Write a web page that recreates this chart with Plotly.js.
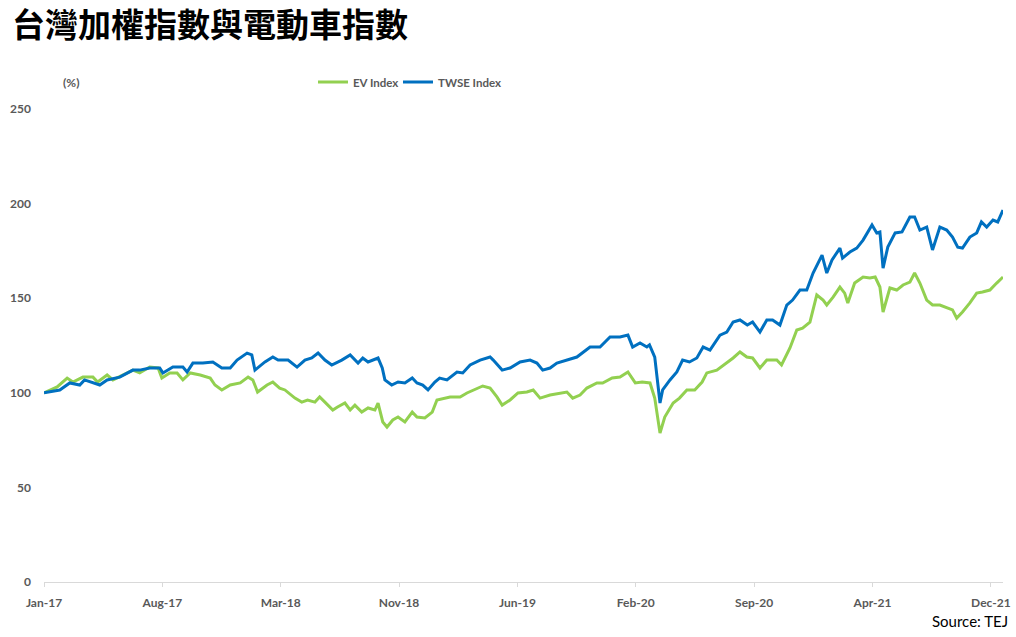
<!DOCTYPE html>
<html>
<head>
<meta charset="utf-8">
<script src="https://cdn.plot.ly/plotly-3.0.1.min.js"></script>
<style>html,body{margin:0;padding:0;background:#fff;}#chart{width:1016px;height:637px;}</style>
</head>
<body>
<div id="chart"></div>
<script>
const chartTitle = "台灣加權指數與電動車指數";
const seriesNames = ["EV Index", "TWSE Index"];
const unitLabel = "(%)";
const sourceText = "Source: TEJ";

const tickDates = ["2017-01-03","2017-08-16","2018-03-29","2018-11-09","2019-06-22","2020-02-02","2020-09-14","2021-04-27","2021-12-08"];
const tickLabels = ["Jan-17","Aug-17","Mar-18","Nov-18","Jun-19","Feb-20","Sep-20","Apr-21","Dec-21"];
const yTicks = [0, 50, 100, 150, 200, 250];

const twseDates = ["2017-01-03","2017-02-02","2017-02-21","2017-03-12","2017-03-21","2017-04-19","2017-05-03","2017-05-27","2017-06-21","2017-07-04","2017-07-23","2017-08-11","2017-08-17","2017-09-05","2017-09-24","2017-10-02","2017-10-13","2017-11-01","2017-11-20","2017-12-07","2017-12-23",
"2018-01-05","2018-01-24","2018-02-02","2018-02-08","2018-02-27","2018-03-14","2018-03-24","2018-04-12","2018-04-29","2018-05-14","2018-05-27","2018-06-08","2018-06-21","2018-07-04","2018-07-23","2018-08-08","2018-08-23","2018-09-01","2018-09-11","2018-09-30","2018-10-08","2018-10-13","2018-10-26","2018-11-07","2018-11-20","2018-12-04","2018-12-13","2018-12-24",
"2019-01-03","2019-01-16","2019-01-25","2019-02-08","2019-02-27","2019-03-10","2019-03-24","2019-04-12","2019-05-01","2019-05-07","2019-05-24","2019-06-08","2019-06-27","2019-07-16","2019-07-29","2019-08-09","2019-08-23","2019-09-05","2019-09-24","2019-10-13","2019-11-07","2019-11-26","2019-12-15",
"2020-01-03","2020-01-18","2020-01-27","2020-02-10","2020-02-23","2020-02-28","2020-03-09","2020-03-19","2020-03-24","2020-04-07","2020-04-20","2020-05-01","2020-05-14","2020-05-28","2020-06-09","2020-06-22","2020-07-11","2020-07-24","2020-08-05","2020-08-18","2020-09-01","2020-09-11","2020-09-25","2020-10-08","2020-10-19","2020-11-02","2020-11-15","2020-11-26","2020-12-10","2020-12-23",
"2021-01-04","2021-01-21","2021-01-30","2021-02-09","2021-02-24","2021-03-01","2021-03-15","2021-03-28","2021-04-09","2021-04-26","2021-05-05","2021-05-11","2021-05-17","2021-05-26","2021-06-09","2021-06-22","2021-07-07","2021-07-16","2021-07-26","2021-08-08","2021-08-19","2021-09-02","2021-09-15","2021-09-26","2021-10-06","2021-10-15","2021-10-29","2021-11-11","2021-11-20","2021-11-30","2021-12-12","2021-12-21","2021-12-31"];
const twseValues = [100.0,101.5,105.2,104.1,106.8,104.1,106.8,108.3,112.0,112.0,113.1,113.1,110.5,113.6,113.6,111.0,115.7,115.7,116.3,113.1,113.1,
117.3,121.0,120.0,112.0,116.3,118.9,117.3,117.3,113.6,117.3,118.4,121.0,117.3,114.7,117.3,120.0,115.7,118.4,116.3,118.4,113.1,106.8,104.1,105.7,105.2,107.8,105.2,104.1,
101.5,105.7,107.8,106.8,111.0,110.5,114.7,117.3,118.9,117.3,112.0,113.1,116.3,117.3,115.7,112.0,113.1,115.7,117.3,118.9,124.2,124.2,129.5,
129.5,130.5,124.2,126.3,124.2,125.3,118.9,94.6,101.5,106.8,111.0,117.3,116.3,118.4,124.2,122.6,130.5,132.1,137.4,138.5,135.8,137.4,132.1,138.5,138.5,135.8,146.4,149.0,154.3,154.3,
163.3,172.8,163.3,170.2,176.5,171.2,174.4,176.5,180.7,188.7,184.5,185.0,165.9,177.0,184.5,185.0,192.9,192.9,186.0,187.6,175.5,187.6,186.0,182.3,177.0,176.5,182.3,184.5,190.3,187.6,191.3,190.3,196.6];

const evDates = ["2017-01-03","2017-01-28","2017-02-16","2017-02-27","2017-03-18","2017-04-06","2017-04-15","2017-05-03","2017-05-14","2017-06-02","2017-06-21","2017-07-04","2017-07-23","2017-08-08","2017-08-15","2017-08-30","2017-09-13","2017-09-24","2017-10-08","2017-10-27","2017-11-15","2017-11-24","2017-12-07","2017-12-23",
"2018-01-11","2018-01-26","2018-02-04","2018-02-13","2018-03-03","2018-03-14","2018-03-27","2018-04-06","2018-04-25","2018-05-08","2018-05-19","2018-06-02","2018-06-11","2018-06-21","2018-07-06","2018-07-15","2018-07-29","2018-08-08","2018-08-17","2018-08-30","2018-09-11","2018-09-24","2018-09-30","2018-10-09","2018-10-17","2018-10-28","2018-11-07","2018-11-20","2018-12-04","2018-12-13","2018-12-28",
"2019-01-11","2019-01-20","2019-02-14","2019-03-05","2019-03-18","2019-04-06","2019-04-17","2019-05-01","2019-05-14","2019-05-24","2019-06-08","2019-06-23","2019-07-10","2019-07-22","2019-08-04","2019-08-23","2019-09-11","2019-09-24","2019-10-05","2019-10-19","2019-11-01","2019-11-20","2019-12-01","2019-12-19",
"2020-01-03","2020-01-18","2020-02-01","2020-02-14","2020-02-29","2020-03-09","2020-03-19","2020-03-28","2020-04-13","2020-04-25","2020-05-09","2020-05-24","2020-06-07","2020-06-16","2020-07-05","2020-07-24","2020-08-05","2020-08-18","2020-08-31","2020-09-11","2020-09-25","2020-10-08","2020-10-27","2020-11-05","2020-11-21","2020-12-04","2020-12-15","2020-12-29",
"2021-01-11","2021-01-23","2021-01-30","2021-02-11","2021-02-24","2021-03-05","2021-03-11","2021-03-24","2021-04-09","2021-04-22","2021-05-02","2021-05-11","2021-05-17","2021-05-30","2021-06-12","2021-06-24","2021-07-07","2021-07-16","2021-07-26","2021-08-08","2021-08-19","2021-09-02","2021-09-15","2021-09-26","2021-10-04","2021-10-15","2021-10-29","2021-11-11","2021-11-22","2021-12-06","2021-12-19","2021-12-31"];
const evValues = [100.0,103.1,107.8,105.7,108.3,108.3,105.7,109.4,106.8,109.4,112.0,110.5,113.6,113.1,107.8,110.5,110.5,106.8,110.5,109.4,107.8,104.1,101.5,104.1,
105.2,108.3,106.8,100.4,104.1,105.7,102.5,101.5,97.2,95.1,96.2,95.1,97.8,95.1,90.9,92.5,94.6,90.9,93.5,89.8,92.0,90.9,94.6,84.6,81.9,85.6,87.2,84.6,89.8,87.2,86.7,
89.8,96.2,97.8,97.8,99.9,102.5,103.6,102.5,97.8,93.5,96.2,99.9,100.4,101.5,97.2,98.8,99.9,100.4,97.2,98.8,102.5,105.2,105.2,107.8,
108.3,111.0,105.2,105.7,105.2,97.2,78.7,87.2,94.6,97.2,101.5,101.5,105.7,110.5,112.0,115.7,118.4,121.6,118.9,118.4,113.1,117.3,117.3,114.7,123.7,133.2,134.2,137.4,
151.7,149.0,146.4,150.6,155.9,152.7,147.5,158.0,161.2,160.7,161.2,155.9,142.7,155.4,154.3,157.0,158.5,163.3,158.0,149.0,146.4,146.4,144.8,143.8,139.5,142.7,147.5,152.7,153.3,154.3,158.0,161.2];

const axisFont = {family: "Lato, 'Open Sans', sans-serif", size: 12, color: "#595959", weight: "bold"};
const legendFont = {family: "Lato, 'Open Sans', sans-serif", size: 11.5, color: "#595959", weight: "bold"};

const traces = [
  {x: evDates, y: evValues, name: seriesNames[0], type: "scatter", mode: "lines",
   line: {color: "#92D050", width: 3}, legendwidth: 40},
  {x: twseDates, y: twseValues, name: seriesNames[1], type: "scatter", mode: "lines",
   line: {color: "#0070C0", width: 3}, legendwidth: 80}
];

const layout = {
  width: 1016, height: 637,
  paper_bgcolor: "#ffffff", plot_bgcolor: "#ffffff",
  margin: {l: 44, r: 13, t: 109, b: 55},
  title: {text: chartTitle, x: 12/1016, xref: "container", xanchor: "left", y: 1 - 25.5/637, yref: "container", yanchor: "middle",
          font: {family: "'Noto Sans CJK TC', 'Noto Sans CJK SC', sans-serif", size: 33, color: "#000000", weight: "bold"}},
  showlegend: true,
  legend: {orientation: "h", x: 0.2805, xanchor: "left", y: 1.057, yanchor: "middle",
           font: legendFont, bgcolor: "rgba(0,0,0,0)", itemwidth: 30, entrywidthmode: "pixels", traceorder: "normal"},
  xaxis: {type: "date", range: ["2017-01-03", "2021-12-31"], tickmode: "array", tickvals: tickDates, ticktext: tickLabels,
          showgrid: false, zeroline: false, showline: true, linecolor: "#d9d9d9", linewidth: 1,
          ticks: "outside", ticklen: 4, tickcolor: "#d9d9d9", tickfont: axisFont, ticklabelstandoff: 6, fixedrange: true},
  yaxis: {range: [0, 250], tickmode: "array", tickvals: yTicks, showgrid: false, zeroline: false, showline: false,
          ticks: "", tickfont: axisFont, ticklabelstandoff: 12, fixedrange: true},
  annotations: [
    {text: unitLabel, xref: "paper", yref: "paper", x: (71-44)/959, y: 1.055, xanchor: "center", yanchor: "middle",
     showarrow: false, font: axisFont},
    {text: sourceText, xref: "paper", yref: "paper", x: (1010-44)/959, y: -(621-582)/473, xanchor: "right", yanchor: "middle",
     showarrow: false, font: {family: "Lato, 'Open Sans', sans-serif", size: 15, color: "#000000"}}
  ]
};

Plotly.newPlot("chart", traces, layout, {staticPlot: true, displayModeBar: false});
</script>
</body>
</html>
